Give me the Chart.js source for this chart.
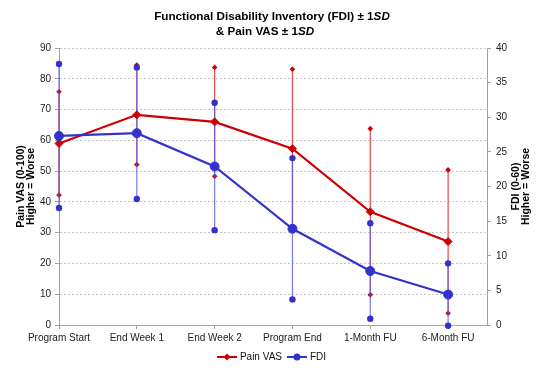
<!DOCTYPE html>
<html>
<head>
<meta charset="utf-8">
<script src="https://cdn.jsdelivr.net/npm/chart.js@4/dist/chart.umd.min.js"></script>
<style>
  html, body { margin: 0; padding: 0; background: #ffffff; }
  #wrap { position: relative; width: 545px; height: 372px; }
</style>
</head>
<body>
<div id="wrap"><canvas id="c"></canvas></div>
<script>
// ---- data ----
const categories = ['Program Start', 'End Week 1', 'End Week 2', 'Program End', '1-Month FU', '6-Month FU'];
const vasMean = [59.0, 68.3, 66.0, 57.3, 36.8, 27.1];
const vasSD   = [16.8, 16.2, 17.7, 25.8, 27.0, 23.3];
const fdiMean = [27.3, 27.7, 22.9, 13.9, 7.8, 4.4];
const fdiSD   = [10.4, 9.5, 9.2, 10.2, 6.9, 4.5];
const vasTicks = [0, 10, 20, 30, 40, 50, 60, 70, 80, 90];
const fdiTicks = [0, 5, 10, 15, 20, 25, 30, 35, 40];

const RED = '#CC0000';
const BLUE = '#3333CC';
const FONT = '"Liberation Sans", Arial, sans-serif';

function meanPoints(mean) {
  return mean.map((v, i) => ({ x: i, y: v }));
}
function errPoints(mean, sd) {
  const pts = [];
  mean.forEach((m, i) => {
    pts.push({ x: i, y: m - sd[i] });
    pts.push({ x: i, y: m + sd[i] });
    pts.push({ x: i, y: null });
  });
  return pts;
}

function legendIcon(color, style) {
  const c = document.createElement('canvas');
  c.width = 20; c.height = 10;
  const g = c.getContext('2d');
  g.strokeStyle = color; g.lineWidth = 2;
  g.beginPath(); g.moveTo(0, 5); g.lineTo(20, 5); g.stroke();
  g.fillStyle = color;
  g.beginPath();
  if (style === 'diamond') {
    g.moveTo(10, 1.5); g.lineTo(13.5, 5); g.lineTo(10, 8.5); g.lineTo(6.5, 5); g.closePath();
  } else {
    g.arc(10, 5, 3.5, 0, Math.PI * 2);
  }
  g.fill();
  return c;
}

const titlePlugin = {
  id: 'customTitles',
  afterDraw(chart) {
    const ctx = chart.ctx;
    ctx.save();
    ctx.fillStyle = '#000';
    ctx.textBaseline = 'middle';
    ctx.textAlign = 'left';
    function mixed(parts, cx, y) {
      let total = 0;
      parts.forEach(p => { ctx.font = p[1]; total += ctx.measureText(p[0]).width; });
      let x = cx - total / 2;
      parts.forEach(p => { ctx.font = p[1]; ctx.fillText(p[0], x, y); x += ctx.measureText(p[0]).width; });
    }
    const b = 'bold 11.7px ' + FONT;
    const bi = 'italic bold 11.7px ' + FONT;
    mixed([['Functional Disability Inventory (FDI) \u00B1 1', b], ['SD', bi]], 272, 17);
    mixed([['& Pain VAS \u00B1 1', b], ['SD', bi]], 265, 32);

    // right axis title (reads bottom-to-top)
    const ca = chart.chartArea;
    const cy = (ca.top + ca.bottom) / 2;
    ctx.font = 'bold 10.5px ' + FONT;
    ctx.textAlign = 'center';
    ctx.translate(516, cy);
    ctx.rotate(-Math.PI / 2);
    ctx.fillText('FDI (0-60)', 0, 0);
    ctx.fillText('Higher = Worse', 0, 10.5);
    ctx.restore();
  }
};

new Chart(document.getElementById('c'), {
  type: 'line',
  data: {
    datasets: [
      {
        label: 'Pain VAS',
        data: meanPoints(vasMean),
        yAxisID: 'y',
        borderColor: RED,
        backgroundColor: RED,
        borderWidth: 2.2,
        pointStyle: 'rectRot',
        pointRadius: 4,
        pointBorderWidth: 1,
        clip: false,
        order: 2
      },
      {
        label: 'FDI',
        data: meanPoints(fdiMean),
        yAxisID: 'y2',
        borderColor: BLUE,
        backgroundColor: BLUE,
        borderWidth: 2.2,
        pointStyle: 'circle',
        pointRadius: 4.5,
        pointBorderWidth: 1,
        clip: false,
        order: 1
      },
      {
        label: 'Pain VAS SD',
        data: errPoints(vasMean, vasSD),
        yAxisID: 'y',
        borderColor: 'rgba(230,40,40,0.85)',
        backgroundColor: RED,
        borderWidth: 1.2,
        pointStyle: 'rectRot',
        pointRadius: 2.8,
        pointBorderWidth: 0,
        spanGaps: false,
        clip: false,
        order: 4
      },
      {
        label: 'FDI SD',
        data: errPoints(fdiMean, fdiSD),
        yAxisID: 'y2',
        borderColor: 'rgba(90,90,240,0.8)',
        backgroundColor: BLUE,
        borderWidth: 1.2,
        pointStyle: 'circle',
        pointRadius: 3.2,
        pointBorderWidth: 0,
        spanGaps: false,
        clip: false,
        order: 3
      }
    ]
  },
  options: {
    responsive: true,
    maintainAspectRatio: false,
    animation: false,
    devicePixelRatio: 1,
    layout: { padding: { top: 48, left: 0, right: 0, bottom: 0 } },
    plugins: {
      title: { display: false },
      tooltip: { enabled: false },
      legend: {
        position: 'bottom',
        labels: {
          font: { family: FONT, size: 10 },
          color: '#111',
          usePointStyle: true,
          pointStyleWidth: 16,
          padding: 7,
          generateLabels(chart) {
            return [
              { text: 'Pain VAS', pointStyle: legendIcon(RED, 'diamond'), fillStyle: RED, strokeStyle: RED, lineWidth: 0, datasetIndex: 0, hidden: false, fontColor: '#111' },
              { text: 'FDI', pointStyle: legendIcon(BLUE, 'circle'), fillStyle: BLUE, strokeStyle: BLUE, lineWidth: 0, datasetIndex: 1, hidden: false, fontColor: '#111' }
            ];
          }
        }
      }
    },
    scales: {
      x: {
        type: 'linear',
        min: 0,
        max: categories.length - 0.5,
        afterBuildTicks(scale) { scale.ticks = categories.map((_, i) => ({ value: i })); },
        afterFit(scale) { scale.height = 20; },
        ticks: {
          autoSkip: false,
          maxRotation: 0,
          padding: 3,
          color: '#222',
          font: { family: FONT, size: 10 },
          callback(v) { return categories[v] !== undefined ? categories[v] : ''; }
        },
        grid: { display: true, drawOnChartArea: false, drawTicks: true, tickLength: 4, color: '#a0a0a0' },
        border: { display: true, color: '#a8a8a8', dash: [6, 3] }
      },
      y: {
        position: 'left',
        min: 0,
        max: 90,
        afterBuildTicks(scale) { scale.ticks = vasTicks.map(v => ({ value: v })); },
        afterFit(scale) { scale.width = 59; },
        ticks: { padding: 4, color: '#222', font: { family: FONT, size: 10 } },
        grid: { color: '#c4c4c4', lineWidth: 1, tickLength: 4, tickColor: '#a0a0a0', tickBorderDash: [] },
        border: { display: true, color: '#a0a0a0', dash: [2, 2] },
        title: {
          display: true,
          text: ['Pain VAS (0-100)', 'Higher = Worse'],
          color: '#000',
          font: { family: FONT, size: 10.5, weight: 'bold', lineHeight: 1.0 },
          padding: { top: 15.5, bottom: 0 }
        }
      },
      y2: {
        position: 'right',
        min: 0,
        max: 40,
        afterBuildTicks(scale) { scale.ticks = fdiTicks.map(v => ({ value: v })); },
        afterFit(scale) { scale.width = 58; },
        ticks: { padding: 5, color: '#222', font: { family: FONT, size: 10 } },
        grid: { drawOnChartArea: false, tickLength: 4, color: '#a0a0a0' },
        border: { display: true, color: '#a0a0a0', dash: [1, 1] }
      }
    }
  },
  plugins: [titlePlugin]
});
</script>
</body>
</html>
